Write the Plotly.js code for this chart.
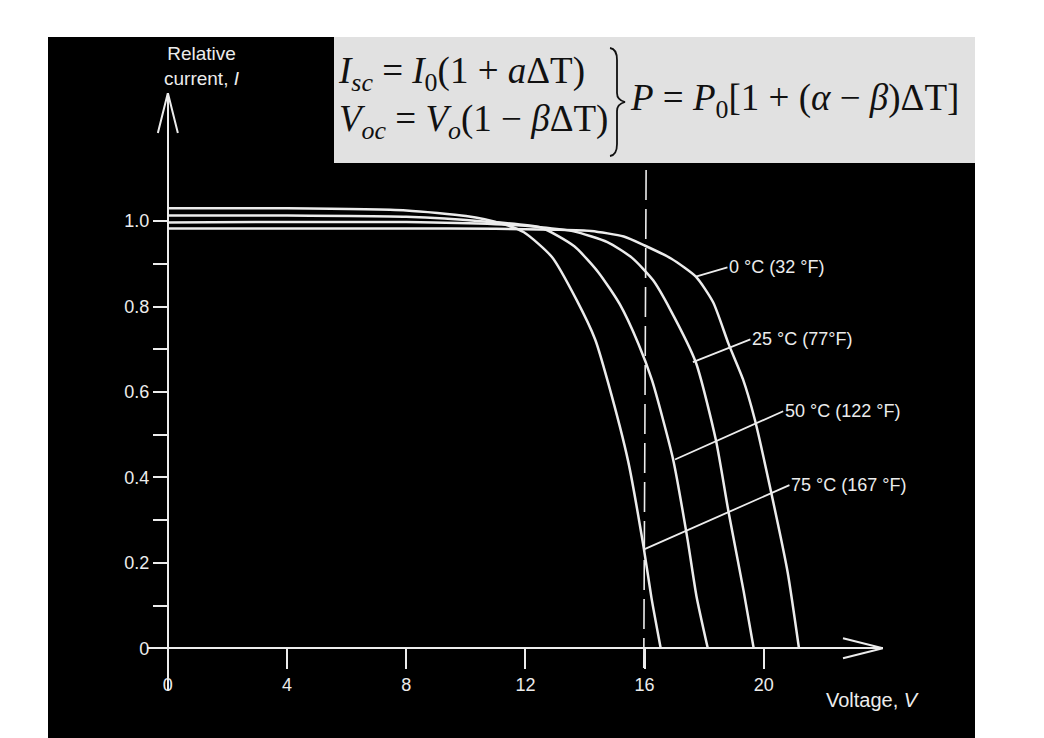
<!DOCTYPE html>
<html>
<head>
<meta charset="utf-8">
<script src="https://cdn.plot.ly/plotly-3.0.1.min.js"></script>
<style>
  body { margin: 0; background: #ffffff; }
  #chart { position: absolute; left: 48px; top: 37px; width: 927px; height: 701px; }
</style>
</head>
<body>
<div id="chart"></div>
<script>
// I-V curves of a PV module at four cell temperatures (relative current vs voltage)
const volt0C = [0, 4, 8, 11, 13, 14.2, 15.3, 16.0, 16.9, 17.72, 18.3, 18.82, 19.3, 19.7, 20.25, 20.8, 21.18];
const curr0C = [0.983, 0.983, 0.983, 0.982, 0.980, 0.977, 0.964, 0.943, 0.912, 0.870, 0.810, 0.712, 0.630, 0.535, 0.364, 0.178, 0];

const volt25C = [0, 4, 8, 11, 12.5, 13.62, 14.75, 15.58, 16.28, 16.86, 17.72, 18.39, 18.82, 19.32, 19.66];
const curr25C = [0.997, 0.998, 0.998, 0.993, 0.986, 0.976, 0.951, 0.914, 0.862, 0.793, 0.669, 0.488, 0.318, 0.135, 0];

const volt50C = [0, 4, 8, 10.5, 12.51, 13.64, 14.45, 15.17, 15.79, 16.25, 16.96, 17.44, 17.74, 18.12];
const curr50C = [1.013, 1.013, 1.010, 1.000, 0.985, 0.941, 0.880, 0.805, 0.713, 0.627, 0.441, 0.255, 0.122, 0];

const volt75C = [0, 4, 8, 10, 11.16, 11.95, 12.89, 13.72, 14.34, 14.77, 15.45, 15.97, 16.23, 16.54];
const curr75C = [1.030, 1.030, 1.025, 1.012, 0.995, 0.974, 0.916, 0.815, 0.723, 0.623, 0.437, 0.235, 0.118, 0];

// dashed vertical marker
const dashVolt = [16.05, 15.97];
const dashCurr = [1.12, -0.06];

// curve labels: point on curve, then where the label sits
const curveLabels = ['0 °C (32 °F)', '25 °C (77°F)', '50 °C (122 °F)', '75 °C (167 °F)'];
const labelAtVolt = [17.72, 17.62, 17.02, 16.0];
const labelAtCurr = [0.870, 0.670, 0.442, 0.232];
const labelVolt = [18.78, 19.55, 20.65, 20.86];
const labelCurr = [0.892, 0.723, 0.555, 0.382];

// axis ticks
const xTickVals = [0, 4, 8, 12, 16, 20];
const xTickText = ['0', '4', '8', '12', '16', '20'];
const yTickVals = [0, 0.2, 0.4, 0.6, 0.8, 1.0];
const yTickText = ['0', '0.2', '0.4', '0.6', '0.8', '1.0'];
const yMinorVals = [0.1, 0.3, 0.5, 0.7, 0.9];

const X_RANGE = [-0.7, 24];
const Y_RANGE = [-0.1, 1.3];

// plot area in page pixels, used to place the loose text and the formula box
const PLOT = { left: 147, top: 93, width: 736, height: 598 };
function paperX(px) { return (px - PLOT.left) / PLOT.width; }
function paperY(py) { return (PLOT.top + PLOT.height - py) / PLOT.height; }
const PX_PER_V = PLOT.width / (X_RANGE[1] - X_RANGE[0]);
const PX_PER_I = PLOT.height / (Y_RANGE[1] - Y_RANGE[0]);

const INK = '#ececec';

function curve(name, x, y) {
  return {
    x: x, y: y, name: name, type: 'scatter', mode: 'lines',
    line: { color: INK, width: 2.5, shape: 'spline', smoothing: 0.6 },
    hoverinfo: 'skip'
  };
}

const data = [
  curve('0 °C', volt0C, curr0C),
  curve('25 °C', volt25C, curr25C),
  curve('50 °C', volt50C, curr50C),
  curve('75 °C', volt75C, curr75C),
  {
    x: dashVolt, y: dashCurr, type: 'scatter', mode: 'lines', hoverinfo: 'skip',
    line: { color: INK, width: 1.6, dash: '30px,9px' }
  }
];

const annotations = [];
for (let i = 0; i < curveLabels.length; i += 1) {
  annotations.push({
    x: labelAtVolt[i], y: labelAtCurr[i], xref: 'x', yref: 'y',
    ax: labelVolt[i], ay: labelCurr[i], axref: 'x', ayref: 'y',
    text: curveLabels[i], showarrow: true, arrowhead: 0, arrowwidth: 1.8, arrowcolor: INK,
    xanchor: 'left', yanchor: 'middle',
    font: { family: 'Liberation Sans', size: 18, color: INK }
  });
}

// axis titles
annotations.push({
  x: paperX(202), y: paperY(66), xref: 'paper', yref: 'paper', showarrow: false,
  xanchor: 'center', yanchor: 'middle',
  text: 'Relative<br>current, <i>I</i>', align: 'center',
  font: { family: 'Liberation Sans', size: 19, color: INK }
});
annotations.push({
  x: paperX(872), y: paperY(700), xref: 'paper', yref: 'paper', showarrow: false,
  xanchor: 'center', yanchor: 'middle',
  text: 'Voltage, <i>V</i>',
  font: { family: 'Liberation Sans', size: 20, color: INK }
});

// formula box text
const serif = { family: 'Liberation Serif', size: 37, color: '#111111' };
annotations.push({
  x: paperX(336), y: paperY(97), xref: 'paper', yref: 'paper', showarrow: false,
  xanchor: 'left', yanchor: 'middle', align: 'left', font: serif,
  text: '<i>I</i><sub><i>sc</i></sub> = <i>I</i><sub>0</sub>(1 + <i>a</i>ΔT)<br>' +
        '<i>V</i><sub><i>oc</i></sub> = <i>V</i><sub><i>o</i></sub>(1 − <i>β</i>ΔT)'
});
annotations.push({
  x: paperX(628), y: paperY(101), xref: 'paper', yref: 'paper', showarrow: false,
  xanchor: 'left', yanchor: 'middle', font: serif,
  text: '<i>P</i> = <i>P</i><sub>0</sub>[1 + (<i>α</i> − <i>β</i>)ΔT]'
});

// curly brace joining the two formulas
const brace = 'M' + paperX(610) + ',' + paperY(48) +
  ' Q' + paperX(617) + ',' + paperY(49) + ' ' + paperX(617) + ',' + paperY(60) +
  ' L' + paperX(617) + ',' + paperY(93) +
  ' Q' + paperX(617) + ',' + paperY(100) + ' ' + paperX(625) + ',' + paperY(102) +
  ' Q' + paperX(617) + ',' + paperY(104) + ' ' + paperX(617) + ',' + paperY(111) +
  ' L' + paperX(617) + ',' + paperY(144) +
  ' Q' + paperX(617) + ',' + paperY(155) + ' ' + paperX(610) + ',' + paperY(156);

// open arrow heads at the ends of both axes
const headLen = 40, headHalf = 10;
const yArrow = 'M' + (-headHalf / PX_PER_V) + ',' + (Y_RANGE[1] - headLen / PX_PER_I) +
  ' L0,' + Y_RANGE[1] + ' L' + (headHalf / PX_PER_V) + ',' + (Y_RANGE[1] - headLen / PX_PER_I);
const xArrow = 'M' + (X_RANGE[1] - headLen / PX_PER_V) + ',' + (headHalf / PX_PER_I) +
  ' L' + X_RANGE[1] + ',0 L' + (X_RANGE[1] - headLen / PX_PER_V) + ',' + (-headHalf / PX_PER_I);

const shapes = [
  {
    type: 'rect', xref: 'paper', yref: 'paper', layer: 'below',
    x0: paperX(334), x1: paperX(976), y0: paperY(163), y1: paperY(36),
    fillcolor: '#e1e1e1', line: { width: 0 }
  },
  {
    type: 'path', xref: 'paper', yref: 'paper', path: brace,
    line: { color: '#111111', width: 1.8 }
  },
  { type: 'path', xref: 'x', yref: 'y', path: yArrow, line: { color: INK, width: 2 } },
  { type: 'path', xref: 'x', yref: 'y', path: xArrow, line: { color: INK, width: 2 } }
];

const layout = {
  width: 927,
  height: 701,
  margin: { l: 99, r: 92, t: 56, b: 47 },
  paper_bgcolor: '#000000',
  plot_bgcolor: '#000000',
  showlegend: false,
  font: { family: 'Liberation Sans', color: INK },
  xaxis: {
    range: X_RANGE, anchor: 'free', position: 0.0714,
    showline: true, linecolor: INK, linewidth: 2,
    ticks: 'outside', ticklen: 20, tickwidth: 2, tickcolor: INK,
    tickmode: 'array', tickvals: xTickVals, ticktext: xTickText,
    tickfont: { size: 18, color: INK },
    showgrid: false, zeroline: false, fixedrange: true
  },
  yaxis: {
    range: Y_RANGE, anchor: 'free', position: 0.02834,
    showline: true, linecolor: INK, linewidth: 2,
    ticks: 'outside', ticklen: 14, tickwidth: 2, tickcolor: INK,
    tickmode: 'array', tickvals: yTickVals, ticktext: yTickText,
    minor: { tickmode: 'array', tickvals: yMinorVals, ticks: 'outside', ticklen: 14, tickwidth: 2, tickcolor: INK, showgrid: false },
    tickfont: { size: 18, color: INK },
    showgrid: false, zeroline: false, fixedrange: true
  },
  annotations: annotations,
  shapes: shapes
};

Plotly.newPlot('chart', data, layout, { displayModeBar: false, staticPlot: true });
</script>
</body>
</html>
